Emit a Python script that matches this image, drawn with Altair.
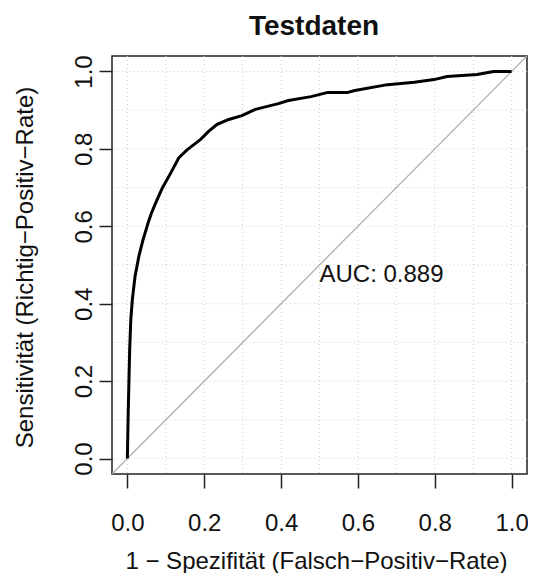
import altair as alt
import pandas as pd

# ROC curve
fpr = [0.0, 0.002, 0.004, 0.006, 0.009, 0.013, 0.020, 0.030, 0.041, 0.054, 0.063,
       0.074, 0.091, 0.113, 0.134, 0.156, 0.190, 0.212, 0.233, 0.264, 0.298, 0.333,
       0.393, 0.419, 0.478, 0.522, 0.574, 0.592, 0.677, 0.747, 0.798, 0.832, 0.910,
       0.953, 1.0]
tpr = [0.0, 0.110, 0.196, 0.282, 0.360, 0.411, 0.471, 0.523, 0.566, 0.609, 0.635,
       0.661, 0.699, 0.738, 0.777, 0.798, 0.824, 0.846, 0.863, 0.876, 0.886, 0.902,
       0.917, 0.925, 0.935, 0.946, 0.946, 0.951, 0.966, 0.972, 0.979, 0.987, 0.992,
       1.0, 1.0]

tick_values = [0.0, 0.2, 0.4, 0.6, 0.8, 1.0]
grid_values = [0.0, 0.1, 0.2, 0.3, 0.4, 0.5, 0.6, 0.7, 0.8, 0.9, 1.0]
diag_values = [-0.04, 1.04]
auc_text = ["AUC: 0.889"]
auc_x = [0.5]
auc_y = [0.455]
title_text = ["Testdaten"]

FONT = "Liberation Sans"
TXT = "#111111"

roc_df = pd.DataFrame({"fpr": fpr, "tpr": tpr, "i": list(range(len(fpr)))})
grid_df = pd.DataFrame({"g": grid_values})
diag_df = pd.DataFrame({"a": diag_values, "b": diag_values})
auc_df = pd.DataFrame({"x": auc_x, "y": auc_y, "t": auc_text})
title_df = pd.DataFrame({"t": title_text})

xs = alt.Scale(domain=[-0.04, 1.04], nice=False, zero=False)
ys = alt.Scale(domain=[-0.04, 1.04], nice=False, zero=False)

xaxis = alt.Axis(
    values=tick_values, format=".1f", grid=False, domain=False,
    title="1 − Spezifität (Falsch−Positiv−Rate)",
    tickSize=14, tickColor="#222222", tickWidth=1.5,
    labelFont=FONT, labelFontSize=24, labelColor=TXT,
    labelBaseline="alphabetic", labelAlign="center", labelPadding=42,
    labelFlush=False, labelOverlap=False,
    titleFont=FONT, titleFontSize=24, titleFontWeight="normal", titleColor=TXT,
    titleX=204, titleY=94, titleBaseline="alphabetic", titleAlign="center", titleAngle=0,
)
yaxis = alt.Axis(
    values=tick_values, format=".1f", grid=False, domain=False,
    title="Sensitivität (Richtig−Positiv−Rate)",
    tickSize=13, tickColor="#222222", tickWidth=1.5,
    labelFont=FONT, labelFontSize=24, labelColor=TXT,
    labelAngle=270, labelBaseline="alphabetic", labelAlign="center", labelPadding=8,
    labelFlush=False, labelOverlap=False,
    titleFont=FONT, titleFontSize=24, titleFontWeight="normal", titleColor=TXT,
    titleX=-80, titleY=211, titleBaseline="alphabetic", titleAlign="center", titleAngle=270,
)

grid_x = alt.Chart(grid_df).mark_rule(color="#cfcfcf", strokeDash=[1, 3], strokeWidth=1).encode(
    x=alt.X("g:Q", scale=xs, axis=xaxis)
)
grid_y = alt.Chart(grid_df).mark_rule(color="#cfcfcf", strokeDash=[1, 3], strokeWidth=1).encode(
    y=alt.Y("g:Q", scale=ys, axis=yaxis)
)
diag = alt.Chart(diag_df).mark_line(color="#b0b0b0", strokeWidth=1.3, clip=True).encode(
    x=alt.X("a:Q", scale=xs, axis=xaxis),
    y=alt.Y("b:Q", scale=ys, axis=yaxis),
)
curve = alt.Chart(roc_df).mark_line(color="#000000", strokeWidth=3, strokeJoin="round").encode(
    x=alt.X("fpr:Q", scale=xs, axis=xaxis),
    y=alt.Y("tpr:Q", scale=ys, axis=yaxis),
    order="i:Q",
)
auc = alt.Chart(auc_df).mark_text(
    align="left", baseline="alphabetic", font=FONT, fontSize=24, color=TXT
).encode(
    x=alt.X("x:Q", scale=xs, axis=xaxis),
    y=alt.Y("y:Q", scale=ys, axis=yaxis),
    text="t:N",
)
title = alt.Chart(title_df).mark_text(
    align="center", baseline="alphabetic", font=FONT, fontSize=28,
    fontWeight="bold", color=TXT,
).encode(
    x=alt.value(202), y=alt.value(-21), text="t:N"
)

chart = alt.layer(grid_x, grid_y, diag, curve, auc, title).properties(
    width=415, height=418,
    autosize=alt.AutoSizeParams(type="none"),
    padding={"left": 104, "top": 48, "right": 1, "bottom": 99},
).configure(background="white").configure_view(stroke="#222222", strokeWidth=1.5)

chart.save("out.html", embed_options={"renderer": "svg", "actions": False})
